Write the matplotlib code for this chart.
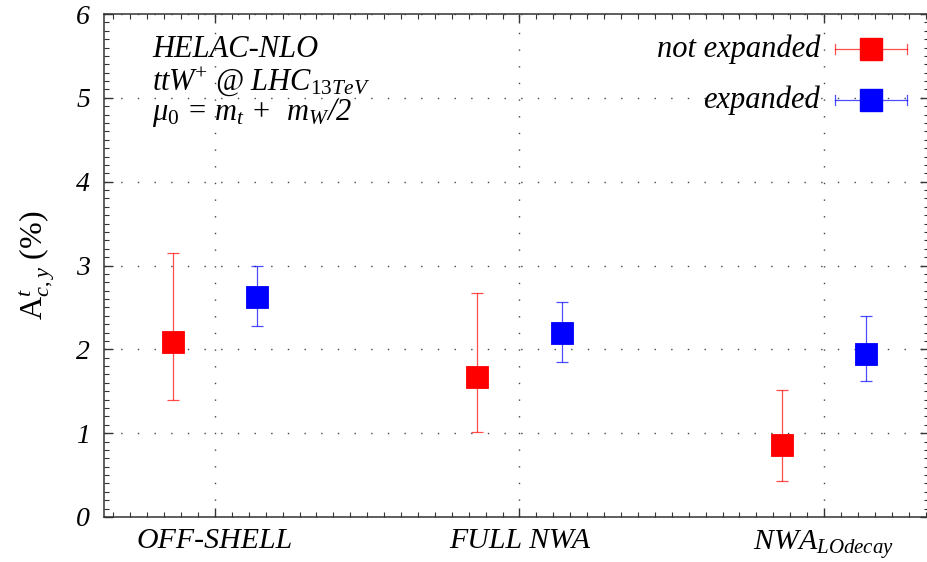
import matplotlib
matplotlib.use("Agg")
import matplotlib.pyplot as plt
from matplotlib.ticker import MultipleLocator, FixedLocator
from matplotlib.lines import Line2D

plt.rcParams["font.family"] = ["Liberation Serif", "DejaVu Serif"]
plt.rcParams["mathtext.fontset"] = "custom"
plt.rcParams["mathtext.rm"] = "Liberation Serif"
plt.rcParams["mathtext.it"] = "Liberation Serif:italic"
plt.rcParams["mathtext.bf"] = "Liberation Serif:bold"

# Charge asymmetry A^t_{c,y} in % for each computation scheme
categories = ["OFF-SHELL", "FULL NWA", r"NWA$_{\mathit{LOdecay}}$"]

not_expanded = [2.09, 1.675, 0.857]
not_expanded_lo = [1.39, 1.01, 0.43]
not_expanded_hi = [3.15, 2.675, 1.52]

expanded = [2.62, 2.19, 1.94]
expanded_lo = [2.28, 1.85, 1.62]
expanded_hi = [3.00, 2.56, 2.40]

series_names = ["not expanded", "expanded"]
y_ticks = [0, 1, 2, 3, 4, 5, 6]

RED = "#ff0000"
BLUE = "#0000ff"

L, R, T, B = 104, 929, 14, 517  # axes box in pixels
fig = plt.figure(figsize=(9.28, 5.62), dpi=100)
ax = fig.add_axes([L / 928, 1 - B / 562, (R - L) / 928, (B - T) / 562])

x = list(range(len(categories)))
shift = 0.138


def draw_series(vals, lo, hi, dx, color):
    xs = [xi + dx for xi in x]
    yerr = [[v - l for v, l in zip(vals, lo)], [h - v for v, h in zip(vals, hi)]]
    ax.errorbar(xs, vals, yerr=yerr, fmt="none", ecolor=color, elinewidth=0.9,
                capsize=4, capthick=0.9, alpha=0.7, zorder=3)
    ax.plot(xs, vals, linestyle="none", marker="s", markersize=16.5,
            markerfacecolor=color, markeredgecolor=color, markeredgewidth=0.6,
            zorder=4)


draw_series(not_expanded, not_expanded_lo, not_expanded_hi, -shift, RED)
draw_series(expanded, expanded_lo, expanded_hi, shift, BLUE)

ax.set_xlim(-0.3645, 2.3448)
ax.set_ylim(0, 6)

ax.xaxis.set_major_locator(FixedLocator(x))
ax.set_xticklabels(categories, fontsize=21.5, fontstyle="italic")
ax.xaxis.set_minor_locator(MultipleLocator(1 / 18))
ax.yaxis.set_major_locator(FixedLocator(y_ticks))
ax.set_yticklabels([str(v) for v in y_ticks], fontsize=20, fontstyle="italic")
ax.yaxis.set_minor_locator(MultipleLocator(0.1))

ax.tick_params(which="both", direction="in", top=True, right=True, colors="#333333")
ax.tick_params(which="major", length=6.5, width=1.0)
ax.tick_params(which="minor", length=3.6, width=0.8)
ax.tick_params(axis="y", which="major", pad=10)
ax.tick_params(axis="x", which="major", pad=8)
for lab in ax.get_xticklabels() + ax.get_yticklabels():
    lab.set_color("black")

for sp in ax.spines.values():
    sp.set_linewidth(1.1)
    sp.set_color("#333333")

ax.grid(True, which="major", color="#444444", linewidth=1.0,
        linestyle=(0, (1, 11)), zorder=0)

ax.set_ylabel(r"A$^{\mathit{t}}_{\mathit{c,y}}$ (%)", fontsize=23)
ax.yaxis.set_label_coords((57 - L) / (R - L), 0.5)


def px_to_axes(px, py):
    return ((px - L) / (R - L), 1 - (py - T) / (B - T))


# Plot annotation
for line, py in zip([r"HELAC-NLO",
                     r"ttW$^{+}$ @ LHC$_{\mathit{13TeV}}$",
                     r"$\mathit{\mu_0}$ = $\mathit{m_t}$ +  $\mathit{m_W}$/2"],
                    [57, 90, 120]):
    tx, ty = px_to_axes(152, py)
    ax.text(tx, ty, line, transform=ax.transAxes, fontsize=22,
            fontstyle="italic", va="baseline", ha="left")

# Legend drawn as horizontal error bar keys
for name, color, py in zip(series_names, [RED, BLUE], [49, 100]):
    tx, ty = px_to_axes(820, py)
    ax.text(tx, ty, name, transform=ax.transAxes, fontsize=22, fontstyle="italic",
            ha="right", va="center")
    x0, yy = px_to_axes(835, py)
    x1, _ = px_to_axes(907, py)
    xc, _ = px_to_axes(871, py)
    ax.add_line(Line2D([x0, x1], [yy, yy], transform=ax.transAxes, color=color,
                       lw=0.9, alpha=0.7, zorder=5))
    for xe in (x0, x1):
        ax.add_line(Line2D([xe, xe], [yy - 0.01, yy + 0.01], transform=ax.transAxes,
                           color=color, lw=0.9, alpha=0.7, zorder=5))
    ax.add_line(Line2D([xc], [yy], transform=ax.transAxes, marker="s",
                       markersize=16.5, color=color, linestyle="none", zorder=6))

fig.savefig("out.png", dpi=100)
